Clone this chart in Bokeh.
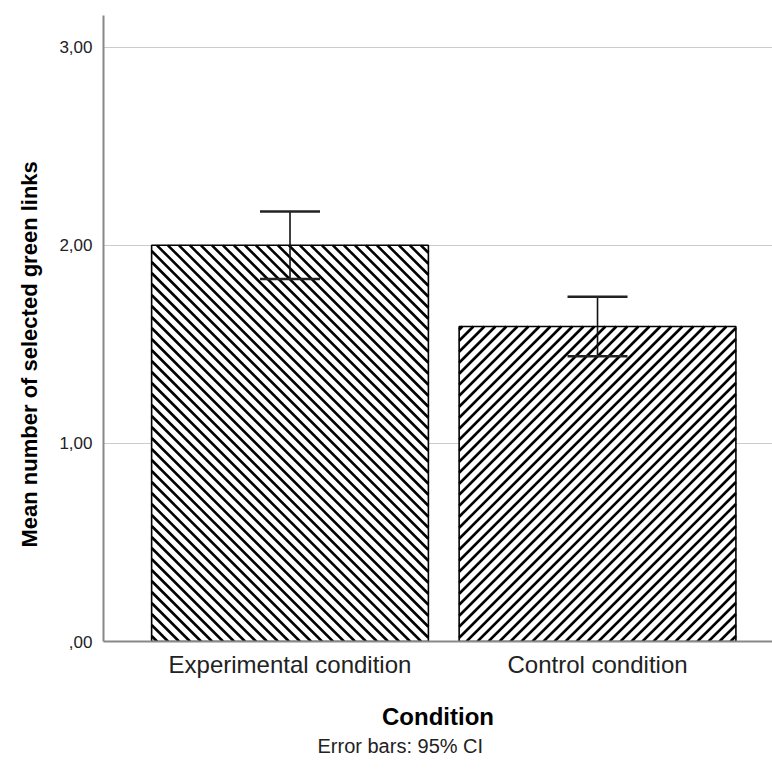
from bokeh.plotting import figure
from bokeh.models import Range1d, FixedTicker, ColumnDataSource, Whisker, TeeHead, Title
from bokeh.embed import file_html
from bokeh.resources import INLINE

conditions = ["Experimental condition", "Control condition"]
means = [2.00, 1.59]
ci_lower = [1.83, 1.44]
ci_upper = [2.17, 1.74]
y_ticks = [0, 1, 2, 3]
y_tick_labels = [",00", "1,00", "2,00", "3,00"]

FONT = "Liberation Sans"
FRAME_W, FRAME_H = 669, 626
X0, X1 = -0.6065, 1.569
Y0, Y1 = 0, 3.16
BAR_W = 0.9

xs = list(range(len(conditions)))

p = figure(frame_width=FRAME_W, frame_height=FRAME_H, output_backend="svg", toolbar_location=None,
           x_range=Range1d(X0, X1), y_range=Range1d(Y0, Y1),
           min_border_left=103, min_border_right=0, min_border_top=15, min_border_bottom=125,
           background_fill_color="white", border_fill_color="white")
p.outline_line_color = None

# 45-degree hatch lines computed in screen space from each bar's extent
sx = FRAME_W / (X1 - X0)
sy = FRAME_H / (Y1 - Y0)
SPACING = 11.0


def hatch_segments(left, width_d, top, direction):
    W = width_d * sx
    H = top * sy
    x0s, y0s, x1s, y1s = [], [], [], []
    if direction == "/":
        c = -W + SPACING / 2
        while c < H:
            xa, xb = max(0.0, -c), min(W, H - c)
            if xb > xa:
                x0s.append(left + xa / sx); y0s.append((xa + c) / sy)
                x1s.append(left + xb / sx); y1s.append((xb + c) / sy)
            c += SPACING
    else:
        c = SPACING / 2
        while c < W + H:
            xa, xb = max(0.0, c - H), min(W, c)
            if xb > xa:
                x0s.append(left + xa / sx); y0s.append((c - xa) / sy)
                x1s.append(left + xb / sx); y1s.append((c - xb) / sy)
            c += SPACING
    return x0s, y0s, x1s, y1s


hatch_dirs = ["\\", "/"]
p.vbar(x=xs, top=means, bottom=0, width=BAR_W, fill_color="white", line_color=None)
for i in xs:
    a, b, c_, d = hatch_segments(xs[i] - BAR_W / 2, BAR_W, means[i], hatch_dirs[i])
    p.segment(x0=a, y0=b, x1=c_, y1=d, line_color="black", line_width=2.6, line_cap="butt")
p.vbar(x=xs, top=means, bottom=0, width=BAR_W, fill_color=None, line_color="black", line_width=1.6)

wsrc = ColumnDataSource(dict(x=xs, lower=ci_lower, upper=ci_upper))
w = Whisker(base="x", lower="lower", upper="upper", source=wsrc, level="overlay",
            line_color="#111111", line_width=1.6,
            upper_head=TeeHead(size=60, line_width=2.5, line_color="#222222"),
            lower_head=TeeHead(size=60, line_width=2.5, line_color="#222222"))
p.add_layout(w)

# grid
p.xgrid.grid_line_color = None
p.ygrid.ticker = FixedTicker(ticks=y_ticks)
p.ygrid.grid_line_color = "#cccccc"
p.ygrid.grid_line_width = 1.2

# y axis
p.yaxis.ticker = FixedTicker(ticks=y_ticks)
p.yaxis.major_label_overrides = {t: l for t, l in zip(y_ticks, y_tick_labels)}
p.yaxis.major_label_text_font = FONT
p.yaxis.major_label_text_font_size = "17px"
p.yaxis.major_label_text_color = "#222222"
p.yaxis.major_label_standoff = 5
p.yaxis.major_tick_line_color = None
p.yaxis.minor_tick_line_color = None
p.yaxis.axis_line_color = "#888888"
p.yaxis.axis_line_width = 2

ylab = Title(text="Mean number of selected green links", align="left", offset=94,
             text_font=FONT, text_font_size="22px", text_font_style="bold",
             text_color="black", standoff=29)
p.add_layout(ylab, "left")

# x axis
p.xaxis.ticker = FixedTicker(ticks=xs)
p.xaxis.major_label_overrides = {i: c for i, c in zip(xs, conditions)}
p.xaxis.axis_label = "Condition"
p.xaxis.axis_label_text_font = FONT
p.xaxis.axis_label_text_font_style = "bold"
p.xaxis.axis_label_text_font_size = "24px"
p.xaxis.axis_label_text_color = "black"
p.xaxis.axis_label_standoff = 22
p.xaxis.major_label_text_font = FONT
p.xaxis.major_label_text_font_size = "24px"
p.xaxis.major_label_text_color = "#222222"
p.xaxis.major_label_standoff = 3
p.xaxis.major_tick_line_color = None
p.xaxis.minor_tick_line_color = None
p.xaxis.axis_line_color = "#888888"
p.xaxis.axis_line_width = 2

note = Title(text="Error bars: 95% CI", align="left", offset=214,
             text_font=FONT, text_font_size="20px", text_font_style="normal",
             text_color="#222222", standoff=0, text_line_height=0.7)
p.add_layout(note, "below")

open("out.html", "w").write(file_html(p, INLINE))
